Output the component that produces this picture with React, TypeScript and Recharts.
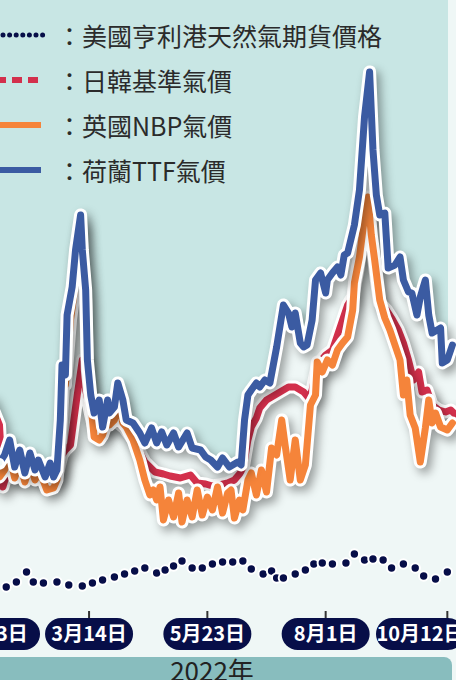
import React from 'react'
import { ComposedChart, Line, Area, XAxis, YAxis } from 'recharts'

// day of year 2022 / price index
const ttfDays = [14, 20, 23, 26, 29, 32, 35, 38, 41, 43, 47, 50, 52, 54, 56, 57, 59, 60, 63, 65, 68, 69, 71, 72, 74, 76, 79, 81, 84, 85, 88, 90, 93, 95, 99, 103, 106, 110, 113, 116, 119, 123, 126, 131, 134, 139, 142, 145, 149, 152, 156, 161, 163, 165, 167, 169, 172, 174, 177, 180, 184, 188, 191, 193, 195, 198, 200, 202, 205, 207, 210, 213, 214, 217, 220, 222, 224, 226, 230, 233, 236, 239, 241, 243, 245, 248, 250, 254, 257, 259, 262, 264, 267, 269, 272, 274, 276, 281, 282, 285, 288]
const ttfPrices = [75, 68.5, 72.5, 80, 66.5, 75, 63.5, 73.5, 65, 70, 61.5, 68.5, 61.5, 65, 90, 117.5, 112.5, 142.5, 156.5, 175, 192.5, 175, 155, 120, 102.5, 93.5, 100, 86.5, 100, 93.5, 96.5, 108.5, 100, 90, 88.5, 83.5, 78.5, 86, 78.5, 84, 77.5, 83.5, 76.5, 83.5, 76, 75, 71.5, 70, 66.5, 71, 66.5, 69, 67.5, 90, 102.5, 105, 108.5, 106.5, 110, 108.5, 126.5, 147.5, 143.5, 136.5, 143.5, 128.5, 126.5, 127.5, 140, 160, 163.5, 153.5, 160, 163.5, 166.5, 162.5, 172.5, 173.5, 187.5, 205, 241.5, 264, 225, 202.5, 192.5, 193.5, 166, 167.5, 171.5, 160, 154, 153.5, 142.5, 151.5, 160, 142.5, 133.5, 136, 118.5, 120, 127.5]

const nbpDays = [14, 20, 23, 26, 29, 32, 35, 38, 41, 44, 48, 52, 54, 56, 58, 59, 62, 64, 66, 68, 69, 71, 72, 75, 76, 79, 81, 84, 85, 88, 90, 93, 95, 99, 103, 106, 109, 111, 113, 115, 117, 120, 123, 126, 128, 131, 134, 137, 140, 143, 146, 149, 152, 155, 157, 159, 162, 164, 167, 169, 172, 175, 178, 181, 184, 187, 189, 192, 195, 198, 201, 204, 207, 208, 211, 214, 217, 220, 223, 226, 229, 230, 233, 236, 238, 240, 242, 245, 248, 251, 254, 257, 259, 261, 263, 266, 269, 272, 274, 276, 278, 281, 285, 288]
const nbpPrices = [60, 61.5, 65, 72.5, 61, 69, 59, 67.5, 60, 64, 55, 56, 60, 80, 110, 107.5, 140, 152.5, 175, 187.5, 172.5, 150, 115, 90, 81.5, 80, 82.5, 90, 87.5, 90, 100, 88.5, 86.5, 80, 70, 60, 52.5, 55, 50, 56.5, 40, 50, 41.5, 53.5, 39, 50, 41.5, 55, 42.5, 51.5, 45, 56.5, 43.5, 53.5, 55, 41, 50, 45, 60, 63.5, 52.5, 65, 54, 76, 72.5, 90, 77.5, 60, 80, 60, 67.5, 97.5, 102.5, 119, 114, 120, 117.5, 125, 128.5, 131.5, 145, 158.5, 171.5, 191.5, 201.5, 182.5, 170, 150, 141, 135, 127.5, 120, 102.5, 110, 92.5, 86, 69, 86, 100, 88.5, 93.5, 86.5, 85, 88.5]

const jkmDays = [14, 20, 22, 25, 29, 33, 38, 44, 50, 54, 57, 59, 62, 64, 66, 69, 71, 74, 76, 82, 88, 94, 100, 106, 112, 117, 121, 127, 133, 137, 142, 146, 150, 155, 159, 164, 167, 169, 172, 174, 178, 181, 186, 191, 195, 200, 203, 205, 208, 213, 217, 221, 226, 229, 232, 236, 238, 240, 243, 245, 249, 252, 256, 259, 262, 265, 268, 270, 273, 276, 280, 284, 287, 290]
const jkmPrices = [100, 87.5, 56.5, 65, 61, 66, 64, 61, 59, 62, 72.5, 75, 77.5, 90, 102.5, 120, 105, 92.5, 85, 87.5, 90, 86, 79, 69, 64, 63, 62, 61, 62.5, 58.5, 58, 57, 57.5, 58.5, 60, 65, 80, 86.5, 91, 96, 100, 101.5, 104, 106.5, 106.5, 104, 101, 105, 117.5, 122.5, 125, 135, 147.5, 151.5, 165, 187.5, 197.5, 180, 160, 148.5, 145, 141, 135, 128.5, 120, 110, 114, 104, 105, 97.5, 95, 94, 95, 92.5]

const henryDays = [24, 30, 36, 40, 46, 54, 61, 69, 75, 81, 88, 94, 100, 106, 113, 118, 123, 128, 134, 140, 146, 152, 158, 164, 169, 176, 181, 184, 188, 195, 201, 206, 211, 217, 225, 230, 236, 241, 247, 252, 259, 266, 271, 278, 285]
const henryPrices = [6.5, 9, 14, 9, 8.5, 9, 7.5, 7, 8.5, 10, 11.5, 13, 14.5, 16, 13.5, 15, 17, 19.5, 16, 16, 18, 19, 19, 19.5, 15.5, 13, 14.5, 11, 11, 13, 15, 18, 18.5, 18, 18.5, 23, 20, 20.5, 20, 16, 18, 16, 12, 10.5, 14]

const tickDays = [3, 73, 143, 213, 285]
const tickLabels = ['1月3日', '3月14日', '5月23日', '8月1日', '10月12日']

const legendLabels = ['美國亨利港天然氣期貨價格', '日韓基準氣價', '英國NBP氣價', '荷蘭TTF氣價']

const NAVY = '#070e48'
const RED = '#d3304c'
const ORANGE = '#f5843a'
const BLUE = '#3b5ba2'
const TEAL = '#c8e6e4'
const PALE = '#eff7f6'
const FONT = '"Noto Sans CJK TC", "Noto Sans", sans-serif'

const CHART_W = 512
const CHART_H = 680
const X_DOMAIN = [-8.1, 294.86]

const toSeries = (days: number[], values: number[]) =>
  days.map((day, i) => ({ day, value: values[i] }))

const ttf = toSeries(ttfDays, ttfPrices)
const nbp = toSeries(nbpDays, nbpPrices)
const jkm = toSeries(jkmDays, jkmPrices)
const henry = toSeries(henryDays, henryPrices)

function DateTick(props: any) {
  const { x, y, payload } = props
  const label = tickLabels[tickDays.indexOf(payload.value)]
  const w = 88
  // keep edge labels inside the frame
  const cx = Math.min(Math.max(x, w / 2), CHART_W - w / 2)
  return (
    <g>
      <line x1={x} x2={x} y1={y + 11} y2={y + 21} stroke="#333" strokeWidth={2} />
      <rect x={cx - w / 2} y={y + 18} width={w} height={32} rx={16} fill={NAVY} />
      <text
        x={cx}
        y={y + 41}
        textAnchor="middle"
        fill="#fff"
        fontSize={20}
        fontWeight={700}
        fontFamily={FONT}
      >
        {label}
      </text>
    </g>
  )
}

function Swatch({ index }: { index: number }) {
  if (index === 0)
    return (
      <line x1={3} x2={44} y1={6} y2={6} stroke={NAVY} strokeWidth={5} strokeLinecap="round" strokeDasharray="0 6.6" />
    )
  if (index === 1)
    return <line x1={-4} x2={42} y1={6} y2={6} stroke={RED} strokeWidth={6} strokeDasharray="10 6" />
  return <line x1={0} x2={41} y1={6} y2={6} stroke={index === 2 ? ORANGE : BLUE} strokeWidth={6} />
}

function LegendBlock() {
  const centers = [36, 80.5, 125.5, 170.5]
  return (
    <div style={{ position: 'absolute', left: 0, top: 0 }}>
      {legendLabels.map((label, i) => (
        <div key={label} style={{ position: 'absolute', left: 0, top: centers[i] - 16, height: 30, width: 420 }}>
          <svg width={46} height={12} style={{ position: 'absolute', left: 0, top: 9 }}>
            <Swatch index={i} />
          </svg>
          <span
            style={{
              position: 'absolute',
              left: 57,
              top: 0,
              lineHeight: '30px',
              fontSize: 25,
              fontFamily: FONT,
              color: '#2b2b2b',
              whiteSpace: 'nowrap',
            }}
          >
            ：{label}
          </span>
        </div>
      ))}
    </div>
  )
}

const lineStyle = {
  type: 'linear' as const,
  strokeLinejoin: 'round' as const,
  strokeLinecap: 'round' as const,
  dot: false,
  activeDot: false,
  isAnimationActive: false,
}

export default function App() {
  return (
    <div
      style={{
        position: 'absolute',
        left: 0,
        top: 0,
        width: 456,
        height: 680,
        overflow: 'hidden',
        background: PALE,
        fontFamily: FONT,
      }}
    >
      <style>{`.halo path { filter: drop-shadow(4px 5px 5px rgba(0,0,0,0.36)); }
.hh .recharts-dot { filter: drop-shadow(1px 1px 1.5px rgba(0,0,0,0.2)); }`}</style>
      {/* teal panel behind the chart; the area under the TTF line paints it pale */}
      <div style={{ position: 'absolute', left: 0, top: 0, width: 448, height: 600, background: TEAL }} />
      <div style={{ position: 'absolute', left: -48, top: 0 }}>
        <ComposedChart width={CHART_W} height={CHART_H} margin={{ top: 0, right: 0, bottom: 0, left: 0 }}>
          <XAxis
            type="number"
            dataKey="day"
            domain={X_DOMAIN}
            allowDataOverflow
            ticks={tickDays}
            interval={0}
            height={80}
            axisLine={false}
            tickLine={false}
            tickSize={0}
            tickMargin={0}
            tick={<DateTick />}
          />
          <YAxis hide domain={[0, 300]} allowDataOverflow />
          <Area
            data={ttf}
            dataKey="value"
            type="linear"
            stroke="none"
            fill={PALE}
            fillOpacity={1}
            isAnimationActive={false}
          />
          <Line
            data={henry}
            dataKey="value"
            className="hh"
            stroke="none"
            dot={{ r: 4.7, fill: NAVY, stroke: '#fff', strokeWidth: 2 }}
            activeDot={false}
            isAnimationActive={false}
          />
          <Line data={jkm} dataKey="value" className="halo" stroke="#fff" strokeWidth={13} {...lineStyle} />
          <Line data={jkm} dataKey="value" stroke={RED} strokeWidth={7} {...lineStyle} />
          <Line data={nbp} dataKey="value" className="halo" stroke="#fff" strokeWidth={13} {...lineStyle} />
          <Line data={nbp} dataKey="value" stroke={ORANGE} strokeWidth={7} {...lineStyle} />
          <Line data={ttf} dataKey="value" className="halo" stroke="#fff" strokeWidth={13} {...lineStyle} />
          <Line data={ttf} dataKey="value" stroke={BLUE} strokeWidth={7} {...lineStyle} />
        </ComposedChart>
      </div>
      <LegendBlock />
      <div
        style={{
          position: 'absolute',
          left: 0,
          top: 657,
          width: 452,
          height: 30,
          background: '#88bdbe',
          borderTopRightRadius: 8,
        }}
      >
        <span
          style={{
            position: 'absolute',
            left: 212,
            top: 0,
            transform: 'translateX(-50%)',
            fontSize: 26,
            lineHeight: '26px',
            color: '#222',
            whiteSpace: 'nowrap',
          }}
        >
          2022年
        </span>
      </div>
    </div>
  )
}
